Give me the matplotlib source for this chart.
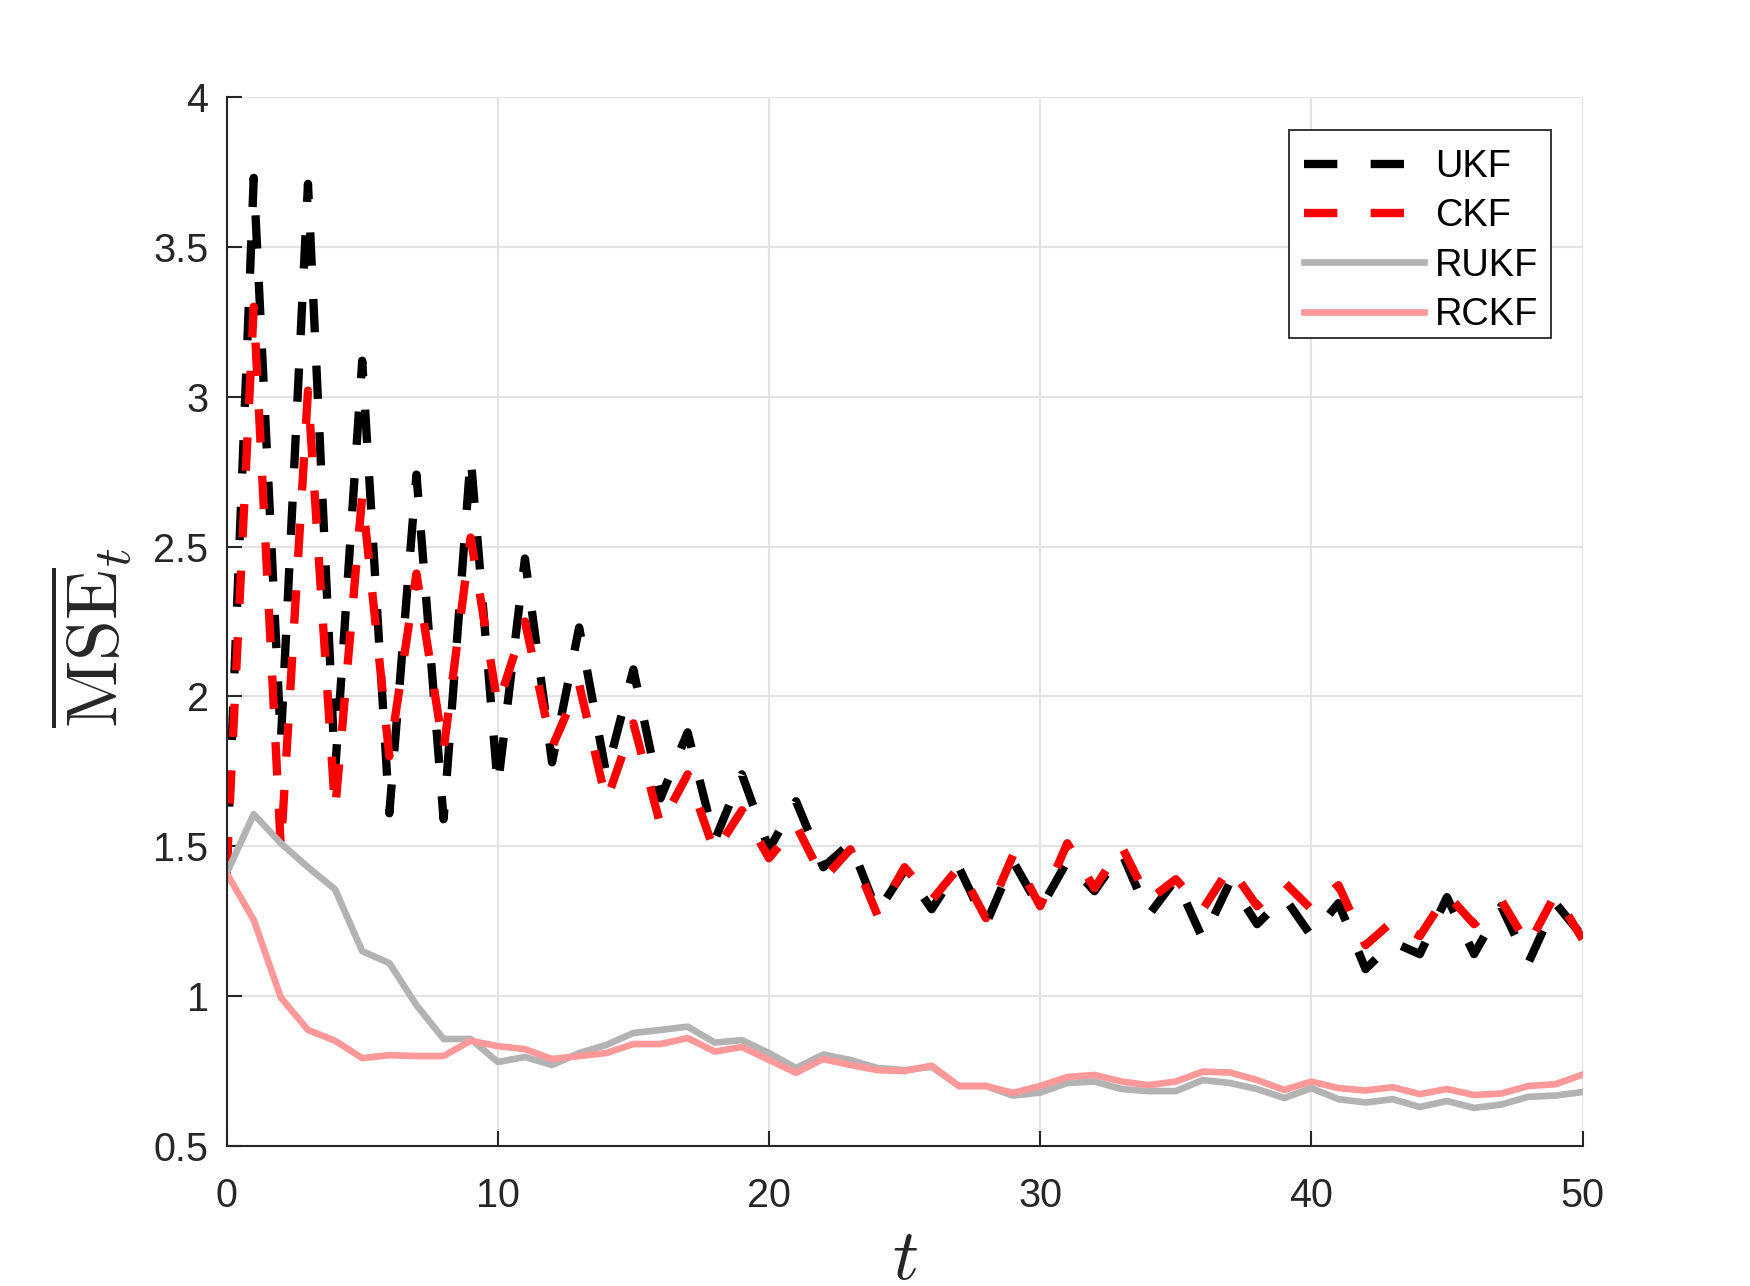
import numpy as np
import matplotlib
matplotlib.use("Agg")
import matplotlib.pyplot as plt
from matplotlib.patches import Rectangle

t = np.arange(0, 51)

ukf = [1.41, 3.73, 1.85, 3.71, 1.75, 3.12, 1.61, 2.74, 1.59, 2.80,
       1.70, 2.46, 1.78, 2.23, 1.74, 2.09, 1.66, 1.88, 1.52, 1.74,
       1.49, 1.65, 1.43, 1.51, 1.28, 1.42, 1.29, 1.43, 1.24, 1.45,
       1.29, 1.45, 1.35, 1.48, 1.27, 1.39, 1.19, 1.38, 1.24, 1.33,
       1.20, 1.31, 1.09, 1.18, 1.14, 1.33, 1.14, 1.30, 1.11, 1.31,
       1.20]
ckf = [1.42, 3.30, 1.49, 3.02, 1.62, 2.67, 1.80, 2.41, 1.82, 2.53,
       1.97, 2.25, 1.83, 2.04, 1.65, 1.91, 1.57, 1.74, 1.48, 1.62,
       1.46, 1.57, 1.39, 1.49, 1.27, 1.43, 1.32, 1.43, 1.26, 1.47,
       1.30, 1.51, 1.36, 1.50, 1.32, 1.39, 1.29, 1.43, 1.30, 1.38,
       1.29, 1.37, 1.17, 1.25, 1.20, 1.34, 1.24, 1.32, 1.17, 1.34,
       1.19]
rukf = [1.41, 1.607, 1.51, 1.43, 1.356, 1.15, 1.11, 0.97, 0.857, 0.857,
        0.78, 0.797, 0.77, 0.81, 0.837, 0.877, 0.887, 0.898, 0.845, 0.853,
        0.81, 0.76, 0.805, 0.787, 0.76, 0.753, 0.764, 0.70, 0.70, 0.668,
        0.678, 0.71, 0.715, 0.69, 0.683, 0.683, 0.72, 0.71, 0.69, 0.66,
        0.693, 0.656, 0.645, 0.656, 0.63, 0.65, 0.627, 0.638, 0.664, 0.668,
        0.68]
rckf = [1.41, 1.254, 0.995, 0.887, 0.851, 0.793, 0.803, 0.80, 0.80, 0.851,
        0.833, 0.823, 0.79, 0.80, 0.81, 0.84, 0.84, 0.86, 0.815, 0.83,
        0.787, 0.744, 0.79, 0.77, 0.753, 0.75, 0.768, 0.70, 0.70, 0.677,
        0.70, 0.73, 0.737, 0.715, 0.703, 0.715, 0.748, 0.745, 0.72, 0.687,
        0.715, 0.693, 0.685, 0.696, 0.673, 0.69, 0.67, 0.675, 0.70, 0.706,
        0.738]

labels = ["UKF", "CKF", "RUKF", "RCKF"]
xticks = [0, 10, 20, 30, 40, 50]
yticks = [0.5, 1, 1.5, 2, 2.5, 3, 3.5, 4]

plt.rcParams['font.family'] = ['Liberation Sans', 'DejaVu Sans']
plt.rcParams['mathtext.fontset'] = 'cm'

fig = plt.figure(figsize=(17.5, 12.86), dpi=100)
ax = fig.add_axes([0.1295, 0.1089, 0.7748, 0.8157])

txt = '#262626'
ax.plot(t, ukf, color='black', lw=6, dashes=(4, 4), label=labels[0])
ax.plot(t, ckf, color='#ff0000', lw=6, dashes=(4, 4), label=labels[1])
ax.plot(t, rukf, color='#b3b3b3', lw=4.8, label=labels[2])
ax.plot(t, rckf, color='#ff9999', lw=4.8, label=labels[3])

ax.set_xlim(0, 50)
ax.set_ylim(0.5, 4)
ax.set_xticks(xticks)
ax.set_yticks(yticks)
ax.set_xticklabels([str(v) for v in xticks])
ax.set_yticklabels([('%g' % v) for v in yticks])

ax.grid(True, color='#e3e3e3', lw=1.5)
ax.set_axisbelow(True)
for s in ['top', 'right']:
    ax.spines[s].set_visible(False)
for s in ['left', 'bottom']:
    ax.spines[s].set_color(txt)
    ax.spines[s].set_linewidth(1.5)
ax.tick_params(direction='in', length=10.8, width=1.5, colors=txt,
               labelsize=28.5)
ax.tick_params(axis='x', pad=22)
ax.tick_params(axis='y', pad=13)

ax.set_xlabel(r'$t$', fontsize=52, color=txt, va='center')
ax.xaxis.set_label_coords(0.5, -0.109)
ax.set_ylabel(r'$\overline{\mathrm{MSE}}_t$', fontsize=53, color=txt, va='center')
ax.yaxis.set_label_coords(-0.100, 0.485)

# legend frame (drawn separately so the entries can sit slightly low, as in the original)
frame = Rectangle((0.7835, 0.7703), 0.9767 - 0.7835, 0.9686 - 0.7703,
                  transform=ax.transAxes, facecolor='white', edgecolor=txt,
                  lw=1.3, zorder=9, clip_on=False)
ax.add_patch(frame)

leg = ax.legend(loc='upper right', bbox_to_anchor=(0.9767, 0.9686 - 0.0064),
                borderaxespad=0, fontsize=27.4, handlelength=3.13,
                handletextpad=0.3, labelspacing=0.35, borderpad=0.33,
                frameon=False)
leg.set_zorder(10)
for tx in leg.get_texts():
    tx.set_color('black')

fig.savefig('out.png', dpi=100, facecolor='white')
